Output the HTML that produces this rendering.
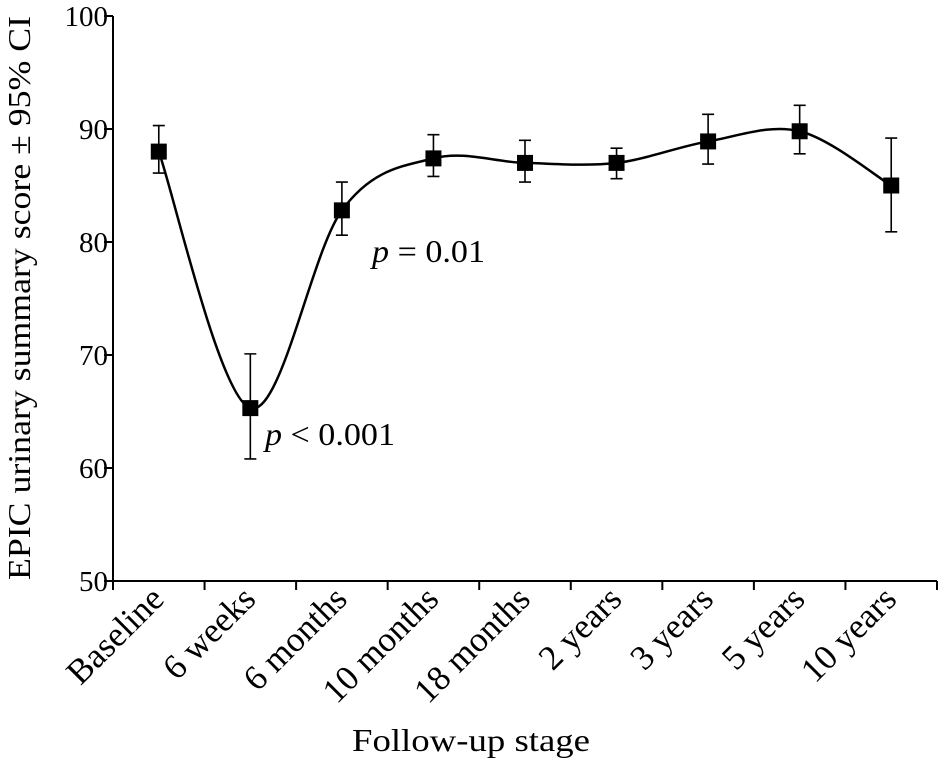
<!DOCTYPE html>
<html><head><meta charset="utf-8"><style>
html,body{margin:0;padding:0;background:#fff;}
svg text{font-family:"Liberation Serif",serif;fill:#000;}
</style></head><body>
<svg id="chart" width="941" height="761" xmlns="http://www.w3.org/2000/svg"></svg>
<script>
const categories=["Baseline","6 weeks","6 months","10 months","18 months","2 years","3 years","5 years","10 years"];
const means=[88,65.3,82.8,87.4,87,87,88.9,89.8,85];
const lower=[86.1,60.8,80.6,85.8,85.3,85.6,86.9,87.8,80.9];
const upper=[90.3,70.1,85.3,89.5,89.0,88.3,91.3,92.1,89.2];
const yTicks=[50,60,70,80,90,100];
const L=113,R=937,T=16,B=581,yMin=50,yMax=100;
const bw=(R-L)/categories.length;
const xs=i=>L+bw*(i+0.5);
const ys=v=>B-(v-yMin)/(yMax-yMin)*(B-T);
const svg=document.getElementById('chart');
const NS='http://www.w3.org/2000/svg';
function mk(t,a,p){const e=document.createElementNS(NS,t);for(const k in a)e.setAttribute(k,a[k]);(p||svg).appendChild(e);return e;}
let e;
e=mk('line',{x1:L,y1:T,x2:L,y2:B,stroke:'#000','stroke-width':2});


e=mk('line',{x1:L-1,y1:B,x2:R,y2:B,stroke:'#000','stroke-width':2});


yTicks.forEach(v=>{
 e=mk('line',{x1:L-9,y1:ys(v),x2:L,y2:ys(v),stroke:'#000','stroke-width':2});
 
 
 e=mk('text',{x:L-5,y:ys(v)+10,'text-anchor':'end','font-size':29});
 e.textContent=v;
 
 
});
for(let i=0;i<=categories.length;i++){
 e=mk('line',{x1:L+bw*i,y1:B,x2:L+bw*i,y2:B+9,stroke:'#000','stroke-width':2});
 
 
}
categories.forEach((c,i)=>{
 const x=xs(i)+7,y=B+20;
 e=mk('text',{x:x,y:y,'text-anchor':'end','font-size':35,transform:`rotate(-45 ${x} ${y})`});
 e.textContent=c;
 
 
});
const pts=means.map((m,i)=>[xs(i),ys(m)]);
let d=`M${pts[0][0]},${pts[0][1]}`;
for(let i=0;i<pts.length-1;i++){
 const p0=pts[Math.max(0,i-1)],p1=pts[i],p2=pts[i+1],p3=pts[Math.min(pts.length-1,i+2)];
 const c1=[p1[0]+(p2[0]-p0[0])/6,p1[1]+(p2[1]-p0[1])/6];
 const c2=[p2[0]-(p3[0]-p1[0])/6,p2[1]-(p3[1]-p1[1])/6];
 d+=` C${c1[0]},${c1[1]} ${c2[0]},${c2[1]} ${p2[0]},${p2[1]}`;
}
e=mk('path',{d:d,fill:'none',stroke:'#000','stroke-width':2.5});


means.forEach((m,i)=>{
 const x=xs(i);
 e=mk('path',{d:`M${x},${ys(lower[i])}V${ys(upper[i])}M${x-6},${ys(lower[i])}H${x+6}M${x-6},${ys(upper[i])}H${x+6}`,stroke:'#000','stroke-width':1.6,fill:'none'});
 
 
 e=mk('rect',{x:x-8,y:ys(m)-8,width:16,height:16,fill:'#000'});
 
 
});
function ann(x,y,rest,name,len){
 const t=mk('text',{x:x,y:y,'font-size':32,textLength:len,lengthAdjust:'spacingAndGlyphs'});
 const a=mk('tspan',{'font-style':'italic'},t);a.textContent='p';
 const b=mk('tspan',{},t);b.textContent=rest;
 
 
}
ann(265,445,' < 0.001','annotation-6-weeks',130);
ann(372,262,' = 0.01','annotation-6-months',113);
e=mk('text',{x:352,y:751,'font-size':32,textLength:238,lengthAdjust:'spacingAndGlyphs'});
e.textContent='Follow-up stage';


e=mk('text',{x:0,y:0,'font-size':32,textLength:564,lengthAdjust:'spacingAndGlyphs',transform:`translate(30 580) rotate(-90)`});
e.textContent='EPIC urinary summary score ± 95% CI';


</script>
</body></html>
